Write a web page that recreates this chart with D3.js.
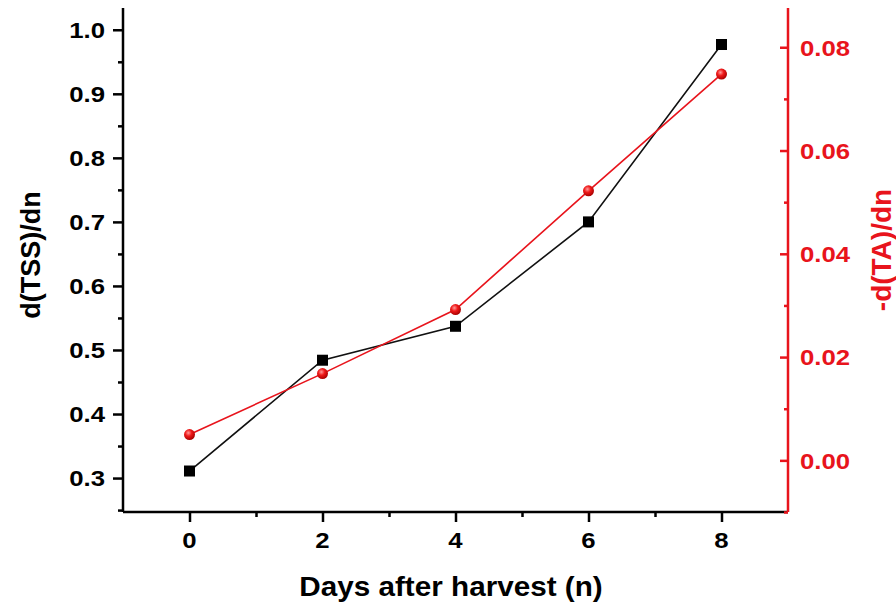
<!DOCTYPE html>
<html>
<head>
<meta charset="utf-8">
<script src="https://cdn.jsdelivr.net/npm/d3@7"></script>
<style>
	body { margin: 0; background: #fff; }
	text { font-family: Arial, "Liberation Sans", sans-serif; font-weight: bold; }
</style>
</head>
<body>
<svg id="chart" width="896" height="605"></svg>
<script>
// data
const days = [0, 2, 4, 6, 8];
const tss = [0.311, 0.484, 0.537, 0.700, 0.977];
const ta = [0.0050, 0.0168, 0.0292, 0.0522, 0.0748];

const xTicks = [0, 2, 4, 6, 8];
const xMinor = [1, 3, 5, 7];
const leftTicks = [0.3, 0.4, 0.5, 0.6, 0.7, 0.8, 0.9, 1.0];
const leftMinor = [0.25, 0.35, 0.45, 0.55, 0.65, 0.75, 0.85, 0.95];
const rightTicks = [0.00, 0.02, 0.04, 0.06, 0.08];
const rightMinor = [-0.01, 0.01, 0.03, 0.05, 0.07];

const red = '#e8141c';
const stretch = 1.12;

let svg = d3.select('#chart');

let x = d3.scaleLinear().domain([-1, 9]).range([123, 788]);
let yL = d3.scaleLinear().domain([0.247, 1.034]).range([512, 8]);
let yR = d3.scaleLinear().domain([-0.01, 0.0876]).range([512, 8]);

// gradient for the shiny red balls
let grad = svg.append('defs').append('radialGradient')
	.attr('id', 'ball')
	.attr('cx', '40%').attr('cy', '35%').attr('r', '65%');
grad.append('stop').attr('offset', '0%').attr('stop-color', '#ff9a9a');
grad.append('stop').attr('offset', '45%').attr('stop-color', '#f01a1a');
grad.append('stop').attr('offset', '100%').attr('stop-color', '#a80000');

// axes (ticks only, labels drawn below)
let gx = svg.append('g').attr('transform', 'translate(0,512)')
	.call(d3.axisBottom(x).tickValues(xTicks).tickSize(10).tickFormat(''));
svg.append('g').attr('transform', 'translate(0,512)')
	.call(d3.axisBottom(x).tickValues(xMinor).tickSize(5).tickFormat(''))
	.select('.domain').remove();

let gl = svg.append('g').attr('transform', 'translate(123,0)')
	.call(d3.axisLeft(yL).tickValues(leftTicks).tickSize(10).tickFormat(''));
svg.append('g').attr('transform', 'translate(123,0)')
	.call(d3.axisLeft(yL).tickValues(leftMinor).tickSize(5).tickFormat(''))
	.select('.domain').remove();

let gr = svg.append('g').attr('class', 'right').attr('transform', 'translate(788,0)')
	.call(d3.axisRight(yR).tickValues(rightTicks).tickSize(-8).tickFormat(''));
svg.append('g').attr('class', 'right').attr('transform', 'translate(788,0)')
	.call(d3.axisRight(yR).tickValues(rightMinor).tickSize(-4).tickFormat(''))
	.select('.domain').remove();

svg.selectAll('.domain').attr('stroke-width', 2.5);
svg.selectAll('.tick line').attr('stroke-width', 2.5);
svg.selectAll('g.right .domain, g.right .tick line').attr('stroke', red);
gr.select('.domain').attr('d', 'M0,512V8');
gl.select('.domain').attr('d', 'M0,512V8');
gx.select('.domain').attr('d', 'M123,0H788');

// tick labels
svg.append('g').selectAll('text').data(xTicks).enter().append('text')
	.attr('transform', d => 'translate(' + x(d) + ',548) scale(' + stretch + ',1)')
	.attr('text-anchor', 'middle')
	.attr('font-size', 23)
	.text(d => d);

svg.append('g').selectAll('text').data(leftTicks).enter().append('text')
	.attr('transform', d => 'translate(105,' + yL(d) + ') scale(' + stretch + ',1)')
	.attr('text-anchor', 'end')
	.attr('dy', '0.36em')
	.attr('font-size', 23)
	.text(d => d3.format('.1f')(d));

svg.append('g').selectAll('text').data(rightTicks).enter().append('text')
	.attr('transform', d => 'translate(800,' + yR(d) + ') scale(' + stretch + ',1)')
	.attr('dy', '0.36em')
	.attr('font-size', 23)
	.attr('fill', red)
	.text(d => d3.format('.2f')(d));

// axis titles
svg.append('text')
	.attr('transform', 'translate(451,596) scale(1.06,1)')
	.attr('text-anchor', 'middle')
	.attr('font-size', 28)
	.text('Days after harvest (n)');

svg.append('text')
	.attr('transform', 'translate(40,255) rotate(-90)')
	.attr('text-anchor', 'middle')
	.attr('font-size', 27)
	.text('d(TSS)/dn');

svg.append('text')
	.attr('transform', 'translate(891,250) rotate(-90)')
	.attr('text-anchor', 'middle')
	.attr('font-size', 28)
	.attr('fill', red)
	.text('-d(TA)/dn');

// series
let tssLine = d3.line().x((d, i) => x(days[i])).y(d => yL(d));
let taLine = d3.line().x((d, i) => x(days[i])).y(d => yR(d));

svg.append('path').attr('d', tssLine(tss))
	.attr('fill', 'none').attr('stroke', '#111').attr('stroke-width', 1.6);
svg.append('path').attr('d', taLine(ta))
	.attr('fill', 'none').attr('stroke', red).attr('stroke-width', 1.6);

svg.append('g').selectAll('rect').data(tss).enter().append('rect')
	.attr('x', (d, i) => x(days[i]) - 5.5)
	.attr('y', d => yL(d) - 5.5)
	.attr('width', 11).attr('height', 11)
	.attr('fill', '#000');

svg.append('g').selectAll('circle').data(ta).enter().append('circle')
	.attr('cx', (d, i) => x(days[i]))
	.attr('cy', d => yR(d))
	.attr('r', 5.5)
	.attr('fill', 'url(#ball)');
</script>
</body>
</html>
